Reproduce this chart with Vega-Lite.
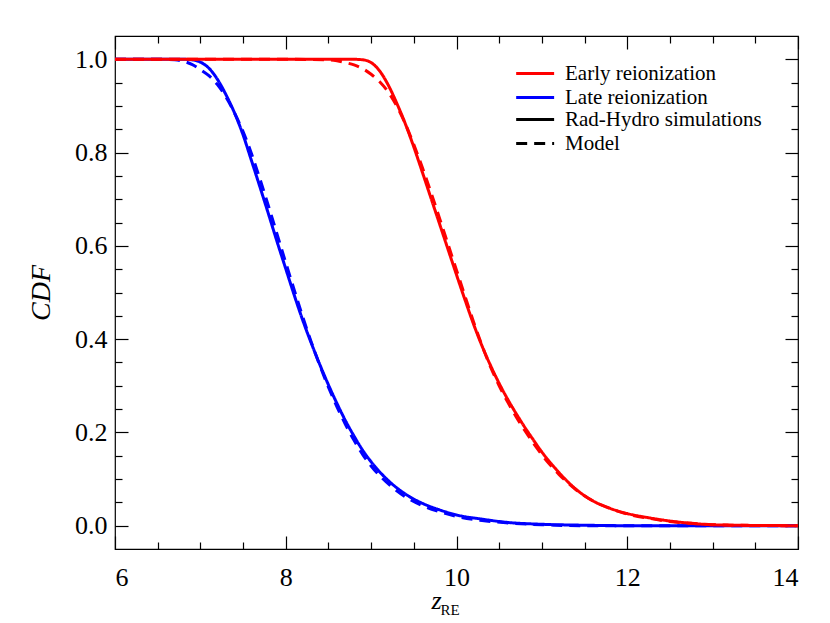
{
  "$schema": "https://vega.github.io/schema/vega-lite/v6.json",
  "width": 683,
  "height": 513,
  "autosize": {"type": "none"},
  "padding": {"left": 115, "top": 36, "right": 32, "bottom": 74},
  "background": "white",
  "config": {
    "view": {"stroke": "black", "strokeWidth": 1.2},
    "axis": {"grid": false, "domain": false, "tickColor": "black", "tickWidth": 1.2, "labelFont": "Liberation Serif", "labelFontSize": 26, "labelColor": "black", "titleFont": "Liberation Serif", "titleColor": "black", "titleFontWeight": "normal"},
    "legend": {"labelFont": "Liberation Serif", "labelFontSize": 21, "labelColor": "black", "labelLimit": 0, "padding": 0, "rowPadding": 2, "symbolStrokeWidth": 3, "symbolSize": 160, "labelOffset": 32}
  },
  "data": {"values": [
    {"z": 6.0, "cdf": 1.0, "run": "Late reionization", "kind": "Rad-Hydro simulations"},
    {"z": 6.5, "cdf": 1.0, "run": "Late reionization", "kind": "Rad-Hydro simulations"},
    {"z": 6.8, "cdf": 1.0, "run": "Late reionization", "kind": "Rad-Hydro simulations"},
    {"z": 6.9, "cdf": 0.999, "run": "Late reionization", "kind": "Rad-Hydro simulations"},
    {"z": 7.0, "cdf": 0.994, "run": "Late reionization", "kind": "Rad-Hydro simulations"},
    {"z": 7.1, "cdf": 0.981, "run": "Late reionization", "kind": "Rad-Hydro simulations"},
    {"z": 7.2, "cdf": 0.957, "run": "Late reionization", "kind": "Rad-Hydro simulations"},
    {"z": 7.3, "cdf": 0.924, "run": "Late reionization", "kind": "Rad-Hydro simulations"},
    {"z": 7.4, "cdf": 0.885, "run": "Late reionization", "kind": "Rad-Hydro simulations"},
    {"z": 7.5, "cdf": 0.838, "run": "Late reionization", "kind": "Rad-Hydro simulations"},
    {"z": 7.6, "cdf": 0.782, "run": "Late reionization", "kind": "Rad-Hydro simulations"},
    {"z": 7.7, "cdf": 0.725, "run": "Late reionization", "kind": "Rad-Hydro simulations"},
    {"z": 7.8, "cdf": 0.667, "run": "Late reionization", "kind": "Rad-Hydro simulations"},
    {"z": 7.9, "cdf": 0.608, "run": "Late reionization", "kind": "Rad-Hydro simulations"},
    {"z": 8.0, "cdf": 0.551, "run": "Late reionization", "kind": "Rad-Hydro simulations"},
    {"z": 8.1, "cdf": 0.494, "run": "Late reionization", "kind": "Rad-Hydro simulations"},
    {"z": 8.2, "cdf": 0.440, "run": "Late reionization", "kind": "Rad-Hydro simulations"},
    {"z": 8.3, "cdf": 0.391, "run": "Late reionization", "kind": "Rad-Hydro simulations"},
    {"z": 8.4, "cdf": 0.345, "run": "Late reionization", "kind": "Rad-Hydro simulations"},
    {"z": 8.5, "cdf": 0.302, "run": "Late reionization", "kind": "Rad-Hydro simulations"},
    {"z": 8.6, "cdf": 0.262, "run": "Late reionization", "kind": "Rad-Hydro simulations"},
    {"z": 8.7, "cdf": 0.225, "run": "Late reionization", "kind": "Rad-Hydro simulations"},
    {"z": 8.8, "cdf": 0.192, "run": "Late reionization", "kind": "Rad-Hydro simulations"},
    {"z": 8.9, "cdf": 0.162, "run": "Late reionization", "kind": "Rad-Hydro simulations"},
    {"z": 9.0, "cdf": 0.137, "run": "Late reionization", "kind": "Rad-Hydro simulations"},
    {"z": 9.2, "cdf": 0.097, "run": "Late reionization", "kind": "Rad-Hydro simulations"},
    {"z": 9.4, "cdf": 0.068, "run": "Late reionization", "kind": "Rad-Hydro simulations"},
    {"z": 9.6, "cdf": 0.048, "run": "Late reionization", "kind": "Rad-Hydro simulations"},
    {"z": 9.8, "cdf": 0.034, "run": "Late reionization", "kind": "Rad-Hydro simulations"},
    {"z": 10.0, "cdf": 0.023, "run": "Late reionization", "kind": "Rad-Hydro simulations"},
    {"z": 10.3, "cdf": 0.014, "run": "Late reionization", "kind": "Rad-Hydro simulations"},
    {"z": 10.6, "cdf": 0.007, "run": "Late reionization", "kind": "Rad-Hydro simulations"},
    {"z": 11.0, "cdf": 0.003, "run": "Late reionization", "kind": "Rad-Hydro simulations"},
    {"z": 11.5, "cdf": 0.001, "run": "Late reionization", "kind": "Rad-Hydro simulations"},
    {"z": 12.0, "cdf": 0.0, "run": "Late reionization", "kind": "Rad-Hydro simulations"},
    {"z": 14.0, "cdf": 0.0, "run": "Late reionization", "kind": "Rad-Hydro simulations"},

    {"z": 6.0, "cdf": 1.0, "run": "Late reionization", "kind": "Model"},
    {"z": 6.5, "cdf": 1.0, "run": "Late reionization", "kind": "Model"},
    {"z": 6.7, "cdf": 0.999, "run": "Late reionization", "kind": "Model"},
    {"z": 6.8, "cdf": 0.996, "run": "Late reionization", "kind": "Model"},
    {"z": 6.9, "cdf": 0.989, "run": "Late reionization", "kind": "Model"},
    {"z": 7.0, "cdf": 0.978, "run": "Late reionization", "kind": "Model"},
    {"z": 7.1, "cdf": 0.965, "run": "Late reionization", "kind": "Model"},
    {"z": 7.2, "cdf": 0.946, "run": "Late reionization", "kind": "Model"},
    {"z": 7.3, "cdf": 0.919, "run": "Late reionization", "kind": "Model"},
    {"z": 7.4, "cdf": 0.885, "run": "Late reionization", "kind": "Model"},
    {"z": 7.5, "cdf": 0.845, "run": "Late reionization", "kind": "Model"},
    {"z": 7.6, "cdf": 0.797, "run": "Late reionization", "kind": "Model"},
    {"z": 7.7, "cdf": 0.742, "run": "Late reionization", "kind": "Model"},
    {"z": 7.8, "cdf": 0.684, "run": "Late reionization", "kind": "Model"},
    {"z": 7.9, "cdf": 0.624, "run": "Late reionization", "kind": "Model"},
    {"z": 8.0, "cdf": 0.564, "run": "Late reionization", "kind": "Model"},
    {"z": 8.1, "cdf": 0.505, "run": "Late reionization", "kind": "Model"},
    {"z": 8.2, "cdf": 0.447, "run": "Late reionization", "kind": "Model"},
    {"z": 8.3, "cdf": 0.393, "run": "Late reionization", "kind": "Model"},
    {"z": 8.4, "cdf": 0.343, "run": "Late reionization", "kind": "Model"},
    {"z": 8.5, "cdf": 0.297, "run": "Late reionization", "kind": "Model"},
    {"z": 8.6, "cdf": 0.255, "run": "Late reionization", "kind": "Model"},
    {"z": 8.7, "cdf": 0.217, "run": "Late reionization", "kind": "Model"},
    {"z": 8.8, "cdf": 0.183, "run": "Late reionization", "kind": "Model"},
    {"z": 8.9, "cdf": 0.153, "run": "Late reionization", "kind": "Model"},
    {"z": 9.0, "cdf": 0.128, "run": "Late reionization", "kind": "Model"},
    {"z": 9.2, "cdf": 0.090, "run": "Late reionization", "kind": "Model"},
    {"z": 9.4, "cdf": 0.062, "run": "Late reionization", "kind": "Model"},
    {"z": 9.6, "cdf": 0.043, "run": "Late reionization", "kind": "Model"},
    {"z": 9.8, "cdf": 0.030, "run": "Late reionization", "kind": "Model"},
    {"z": 10.0, "cdf": 0.020, "run": "Late reionization", "kind": "Model"},
    {"z": 10.3, "cdf": 0.011, "run": "Late reionization", "kind": "Model"},
    {"z": 10.6, "cdf": 0.006, "run": "Late reionization", "kind": "Model"},
    {"z": 11.0, "cdf": 0.002, "run": "Late reionization", "kind": "Model"},
    {"z": 11.5, "cdf": 0.0, "run": "Late reionization", "kind": "Model"},
    {"z": 14.0, "cdf": 0.0, "run": "Late reionization", "kind": "Model"},

    {"z": 6.0, "cdf": 1.0, "run": "Early reionization", "kind": "Rad-Hydro simulations"},
    {"z": 8.0, "cdf": 1.0, "run": "Early reionization", "kind": "Rad-Hydro simulations"},
    {"z": 8.8, "cdf": 1.0, "run": "Early reionization", "kind": "Rad-Hydro simulations"},
    {"z": 8.9, "cdf": 0.999, "run": "Early reionization", "kind": "Rad-Hydro simulations"},
    {"z": 9.0, "cdf": 0.993, "run": "Early reionization", "kind": "Rad-Hydro simulations"},
    {"z": 9.1, "cdf": 0.975, "run": "Early reionization", "kind": "Rad-Hydro simulations"},
    {"z": 9.2, "cdf": 0.945, "run": "Early reionization", "kind": "Rad-Hydro simulations"},
    {"z": 9.3, "cdf": 0.906, "run": "Early reionization", "kind": "Rad-Hydro simulations"},
    {"z": 9.4, "cdf": 0.862, "run": "Early reionization", "kind": "Rad-Hydro simulations"},
    {"z": 9.5, "cdf": 0.812, "run": "Early reionization", "kind": "Rad-Hydro simulations"},
    {"z": 9.6, "cdf": 0.758, "run": "Early reionization", "kind": "Rad-Hydro simulations"},
    {"z": 9.7, "cdf": 0.703, "run": "Early reionization", "kind": "Rad-Hydro simulations"},
    {"z": 9.8, "cdf": 0.648, "run": "Early reionization", "kind": "Rad-Hydro simulations"},
    {"z": 9.9, "cdf": 0.593, "run": "Early reionization", "kind": "Rad-Hydro simulations"},
    {"z": 10.0, "cdf": 0.538, "run": "Early reionization", "kind": "Rad-Hydro simulations"},
    {"z": 10.1, "cdf": 0.484, "run": "Early reionization", "kind": "Rad-Hydro simulations"},
    {"z": 10.2, "cdf": 0.432, "run": "Early reionization", "kind": "Rad-Hydro simulations"},
    {"z": 10.3, "cdf": 0.385, "run": "Early reionization", "kind": "Rad-Hydro simulations"},
    {"z": 10.4, "cdf": 0.343, "run": "Early reionization", "kind": "Rad-Hydro simulations"},
    {"z": 10.5, "cdf": 0.305, "run": "Early reionization", "kind": "Rad-Hydro simulations"},
    {"z": 10.6, "cdf": 0.271, "run": "Early reionization", "kind": "Rad-Hydro simulations"},
    {"z": 10.7, "cdf": 0.240, "run": "Early reionization", "kind": "Rad-Hydro simulations"},
    {"z": 10.8, "cdf": 0.211, "run": "Early reionization", "kind": "Rad-Hydro simulations"},
    {"z": 10.9, "cdf": 0.184, "run": "Early reionization", "kind": "Rad-Hydro simulations"},
    {"z": 11.0, "cdf": 0.158, "run": "Early reionization", "kind": "Rad-Hydro simulations"},
    {"z": 11.2, "cdf": 0.114, "run": "Early reionization", "kind": "Rad-Hydro simulations"},
    {"z": 11.4, "cdf": 0.078, "run": "Early reionization", "kind": "Rad-Hydro simulations"},
    {"z": 11.6, "cdf": 0.053, "run": "Early reionization", "kind": "Rad-Hydro simulations"},
    {"z": 11.8, "cdf": 0.037, "run": "Early reionization", "kind": "Rad-Hydro simulations"},
    {"z": 12.0, "cdf": 0.026, "run": "Early reionization", "kind": "Rad-Hydro simulations"},
    {"z": 12.25, "cdf": 0.017, "run": "Early reionization", "kind": "Rad-Hydro simulations"},
    {"z": 12.5, "cdf": 0.010, "run": "Early reionization", "kind": "Rad-Hydro simulations"},
    {"z": 12.75, "cdf": 0.005, "run": "Early reionization", "kind": "Rad-Hydro simulations"},
    {"z": 13.0, "cdf": 0.002, "run": "Early reionization", "kind": "Rad-Hydro simulations"},
    {"z": 13.5, "cdf": 0.0005, "run": "Early reionization", "kind": "Rad-Hydro simulations"},
    {"z": 14.0, "cdf": 0.0, "run": "Early reionization", "kind": "Rad-Hydro simulations"},

    {"z": 6.0, "cdf": 1.0, "run": "Early reionization", "kind": "Model"},
    {"z": 8.0, "cdf": 1.0, "run": "Early reionization", "kind": "Model"},
    {"z": 8.5, "cdf": 0.999, "run": "Early reionization", "kind": "Model"},
    {"z": 8.6, "cdf": 0.997, "run": "Early reionization", "kind": "Model"},
    {"z": 8.7, "cdf": 0.993, "run": "Early reionization", "kind": "Model"},
    {"z": 8.8, "cdf": 0.988, "run": "Early reionization", "kind": "Model"},
    {"z": 8.9, "cdf": 0.980, "run": "Early reionization", "kind": "Model"},
    {"z": 9.0, "cdf": 0.968, "run": "Early reionization", "kind": "Model"},
    {"z": 9.1, "cdf": 0.952, "run": "Early reionization", "kind": "Model"},
    {"z": 9.2, "cdf": 0.930, "run": "Early reionization", "kind": "Model"},
    {"z": 9.3, "cdf": 0.900, "run": "Early reionization", "kind": "Model"},
    {"z": 9.4, "cdf": 0.862, "run": "Early reionization", "kind": "Model"},
    {"z": 9.5, "cdf": 0.817, "run": "Early reionization", "kind": "Model"},
    {"z": 9.6, "cdf": 0.768, "run": "Early reionization", "kind": "Model"},
    {"z": 9.7, "cdf": 0.715, "run": "Early reionization", "kind": "Model"},
    {"z": 9.8, "cdf": 0.660, "run": "Early reionization", "kind": "Model"},
    {"z": 9.9, "cdf": 0.604, "run": "Early reionization", "kind": "Model"},
    {"z": 10.0, "cdf": 0.548, "run": "Early reionization", "kind": "Model"},
    {"z": 10.1, "cdf": 0.492, "run": "Early reionization", "kind": "Model"},
    {"z": 10.2, "cdf": 0.437, "run": "Early reionization", "kind": "Model"},
    {"z": 10.3, "cdf": 0.386, "run": "Early reionization", "kind": "Model"},
    {"z": 10.4, "cdf": 0.340, "run": "Early reionization", "kind": "Model"},
    {"z": 10.5, "cdf": 0.300, "run": "Early reionization", "kind": "Model"},
    {"z": 10.6, "cdf": 0.265, "run": "Early reionization", "kind": "Model"},
    {"z": 10.7, "cdf": 0.233, "run": "Early reionization", "kind": "Model"},
    {"z": 10.8, "cdf": 0.204, "run": "Early reionization", "kind": "Model"},
    {"z": 10.9, "cdf": 0.177, "run": "Early reionization", "kind": "Model"},
    {"z": 11.0, "cdf": 0.152, "run": "Early reionization", "kind": "Model"},
    {"z": 11.2, "cdf": 0.110, "run": "Early reionization", "kind": "Model"},
    {"z": 11.4, "cdf": 0.077, "run": "Early reionization", "kind": "Model"},
    {"z": 11.6, "cdf": 0.053, "run": "Early reionization", "kind": "Model"},
    {"z": 11.8, "cdf": 0.037, "run": "Early reionization", "kind": "Model"},
    {"z": 12.0, "cdf": 0.025, "run": "Early reionization", "kind": "Model"},
    {"z": 12.25, "cdf": 0.016, "run": "Early reionization", "kind": "Model"},
    {"z": 12.5, "cdf": 0.009, "run": "Early reionization", "kind": "Model"},
    {"z": 12.75, "cdf": 0.005, "run": "Early reionization", "kind": "Model"},
    {"z": 13.0, "cdf": 0.002, "run": "Early reionization", "kind": "Model"},
    {"z": 13.5, "cdf": 0.0005, "run": "Early reionization", "kind": "Model"},
    {"z": 14.0, "cdf": 0.0, "run": "Early reionization", "kind": "Model"}
  ]},
  "layer": [
    {
      "mark": {"type": "line", "strokeWidth": 3, "interpolate": "monotone"},
      "encoding": {
        "x": {"field": "z", "type": "quantitative", "scale": {"domain": [6, 14], "nice": false, "zero": false},
          "axis": {"orient": "bottom", "values": [6, 8, 10, 12, 14], "format": "d", "ticks": false, "labelPadding": 15, "labelFont": "Liberation Serif", "labelFontSize": 26, "labelColor": "black",
            "title": "z", "titleFont": "Liberation Serif", "titleFontStyle": "italic", "titleFontSize": 26, "titleX": 321, "titleY": 59, "titleAlign": "center", "titleBaseline": "alphabetic"}},
        "y": {"field": "cdf", "type": "quantitative", "scale": {"domain": [-0.05, 1.05], "nice": false, "zero": false},
          "axis": {"orient": "left", "values": [0, 0.2, 0.4, 0.6, 0.8, 1.0], "format": ".1f", "ticks": false, "labelPadding": 8, "labelFont": "Liberation Serif", "labelFontSize": 26, "labelColor": "black",
            "title": "CDF", "titleFont": "Liberation Serif", "titleFontStyle": "italic", "titleFontSize": 28, "titleAngle": -90, "titleX": -74, "titleY": 256.5, "titleAlign": "center", "titleBaseline": "middle"}},
        "color": {"field": "run", "type": "nominal", "scale": {"domain": ["Early reionization", "Late reionization"], "range": ["#ff0000", "#0000ff"]},
          "legend": {"orient": "none", "legendX": 397, "legendY": 27, "title": null, "labelFont": "Liberation Serif", "labelFontSize": 21, "labelColor": "black", "symbolType": "M-1,0H5", "symbolSize": 160, "symbolStrokeWidth": 3}},
        "strokeDash": {"field": "kind", "type": "nominal", "scale": {"domain": ["Rad-Hydro simulations", "Model"], "range": [[1, 0], [11, 7]]},
          "legend": {"orient": "none", "legendX": 397, "legendY": 73, "title": null, "labelFont": "Liberation Serif", "labelFontSize": 21, "labelColor": "black", "symbolType": "M-1,0H5", "symbolSize": 160, "symbolStrokeWidth": 3, "symbolStrokeColor": "black"}}
      }
    },
    {
      "mark": {"type": "point", "opacity": 0, "size": 0},
      "encoding": {
        "x": {"field": "z", "type": "quantitative", "axis": {"orient": "bottom", "values": [6, 8, 10, 12, 14], "labels": false, "tickSize": -13, "title": null}},
        "y": {"field": "cdf", "type": "quantitative", "axis": {"orient": "left", "values": [0, 0.2, 0.4, 0.6, 0.8, 1.0], "labels": false, "tickSize": -13, "title": null}}
      }
    },
    {
      "mark": {"type": "point", "opacity": 0, "size": 0},
      "encoding": {
        "x": {"field": "z", "type": "quantitative", "axis": {"orient": "bottom", "values": [6.5, 7, 7.5, 8.5, 9, 9.5, 10.5, 11, 11.5, 12.5, 13, 13.5], "labels": false, "tickSize": -7, "title": null}},
        "y": {"field": "cdf", "type": "quantitative", "axis": {"orient": "left", "values": [0.05, 0.1, 0.15, 0.25, 0.3, 0.35, 0.45, 0.5, 0.55, 0.65, 0.7, 0.75, 0.85, 0.9, 0.95], "labels": false, "tickSize": -7, "title": null}}
      }
    },
    {
      "mark": {"type": "point", "opacity": 0, "size": 0},
      "encoding": {
        "x": {"field": "z", "type": "quantitative", "axis": {"orient": "top", "values": [6, 8, 10, 12, 14], "labels": false, "tickSize": -13, "title": null}},
        "y": {"field": "cdf", "type": "quantitative", "axis": {"orient": "right", "values": [0, 0.2, 0.4, 0.6, 0.8, 1.0], "labels": false, "tickSize": -13, "title": null}}
      }
    },
    {
      "mark": {"type": "point", "opacity": 0, "size": 0},
      "encoding": {
        "x": {"field": "z", "type": "quantitative", "axis": {"orient": "top", "values": [6.5, 7, 7.5, 8.5, 9, 9.5, 10.5, 11, 11.5, 12.5, 13, 13.5], "labels": false, "tickSize": -7, "title": null}},
        "y": {"field": "cdf", "type": "quantitative", "axis": {"orient": "right", "values": [0.05, 0.1, 0.15, 0.25, 0.3, 0.35, 0.45, 0.5, 0.55, 0.65, 0.7, 0.75, 0.85, 0.9, 0.95], "labels": false, "tickSize": -7, "title": null}}
      }
    },
    {
      "mark": {"type": "point", "opacity": 0, "size": 0},
      "encoding": {
        "x": {"field": "z", "type": "quantitative", "axis": {"orient": "bottom", "labels": false, "ticks": false, "title": "RE", "titleFont": "Liberation Serif", "titleFontSize": 15, "titleX": 325, "titleY": 65, "titleAlign": "left", "titleBaseline": "alphabetic"}},
        "y": {"field": "cdf", "type": "quantitative", "axis": null}
      }
    }
  ],
  "resolve": {"axis": {"x": "independent", "y": "independent"}}
}
